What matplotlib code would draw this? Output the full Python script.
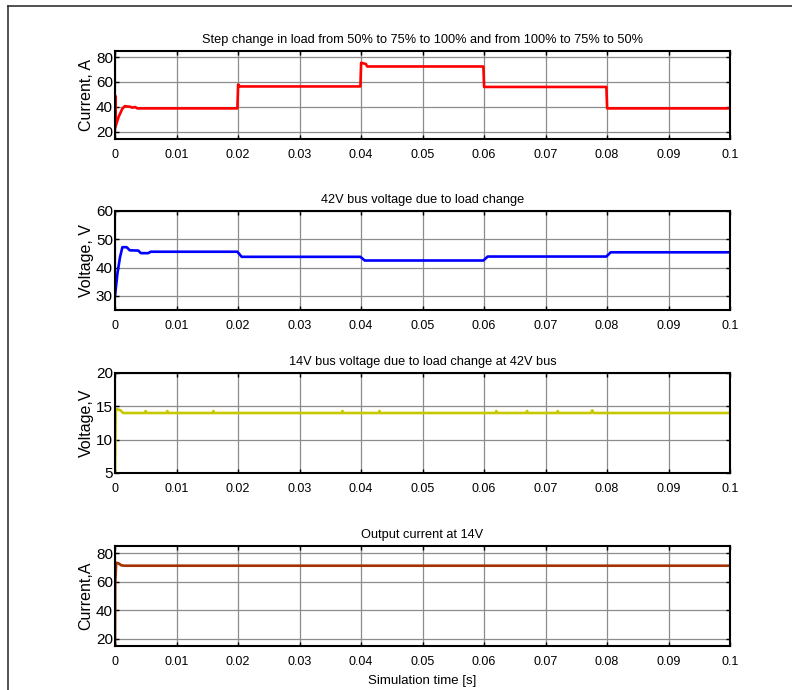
import matplotlib
matplotlib.use('Agg')
import matplotlib.pyplot as plt
from matplotlib.lines import Line2D

# panel 1 - load current
t1 = [0, 0.00003, 0.00008, 0.0006, 0.0012, 0.0016, 0.0025, 0.0028, 0.0033, 0.0036,
      0.0199, 0.02002, 0.0203, 0.0399, 0.04002, 0.0408, 0.041, 0.0599, 0.06002, 0.0799, 0.08002, 0.1]
i1 = [22, 49, 24, 32, 38.5, 40.5, 40, 39.3, 39.8, 38.7,
      38.7, 58, 56.4, 56.4, 75.5, 74.5, 72.5, 72.5, 56, 56, 38.7, 38.7]

# panel 2 - 42V bus voltage
t2 = [0, 0.0004, 0.0008, 0.0012, 0.0019, 0.0024, 0.0038, 0.0042, 0.0054, 0.0058,
      0.0199, 0.0206, 0.0399, 0.0406, 0.0599, 0.0606, 0.0799, 0.0806, 0.1]
v2 = [30, 38, 43.5, 47.2, 47.2, 46.1, 46.0, 45.1, 45.1, 45.6,
      45.6, 43.8, 43.8, 42.5, 42.5, 43.9, 43.9, 45.4, 45.4]

# panel 3 - 14V bus voltage
t3 = [0, 0.00012, 0.0003, 0.0009, 0.0013, 0.0049, 0.005, 0.0051, 0.0084, 0.0085, 0.0086,
      0.0159, 0.016, 0.0161, 0.0369, 0.037, 0.0371, 0.0429, 0.043, 0.0431, 0.0619, 0.062, 0.0621,
      0.0669, 0.067, 0.0671, 0.0719, 0.072, 0.0721, 0.0774, 0.0776, 0.0778, 0.1]
v3 = [5, 14.2, 14.6, 14.4, 14.0, 14.0, 14.3, 14.0, 14.0, 14.3, 14.0,
      14.0, 14.3, 14.0, 14.0, 14.3, 14.0, 14.0, 14.3, 14.0, 14.0, 14.3, 14.0,
      14.0, 14.3, 14.0, 14.0, 14.3, 14.0, 14.0, 14.4, 14.0, 14.0]

# panel 4 - output current at 14V
t4 = [0, 0.00004, 0.0002, 0.0006, 0.001, 0.0015, 0.1]
i4 = [15, 60, 73.3, 72.8, 71.5, 71.2, 71.2]

xticks = [0, 0.01, 0.02, 0.03, 0.04, 0.05, 0.06, 0.07, 0.08, 0.09, 0.1]
xticklabels = ['0', '0.01', '0.02', '0.03', '0.04', '0.05', '0.06', '0.07', '0.08', '0.09', '0.1']

panels = [
    (t1, i1, '#ff0000', 'Current, A', (14, 85), [20, 40, 60, 80],
     'Step change in load from 50% to 75% to 100% and from 100% to 75% to 50%'),
    (t2, v2, '#0000ff', 'Voltage, V', (25, 60), [30, 40, 50, 60],
     '42V bus voltage due to load change'),
    (t3, v3, '#c8c800', 'Voltage,V', (5, 20), [5, 10, 15, 20],
     '14V bus voltage due to load change at 42V bus'),
    (t4, i4, '#a33200', 'Current,A', (15, 85), [20, 40, 60, 80],
     'Output current at 14V'),
]

# axes boxes in pixels (top, bottom)
boxes = [(51, 139), (211, 310), (373, 473), (546, 646)]
W, H = 792, 690

font = 'Liberation Sans'
fig = plt.figure(figsize=(7.92, 6.9), dpi=100)

for (t, y, col, ylab, ylim, yt, title), (top, bot) in zip(panels, boxes):
    ax = fig.add_axes([115 / W, 1 - bot / H, 615 / W, (bot - top) / H])
    ax.plot(t, y, color=col, linewidth=1.9)
    ax.set_xlim(0, 0.1)
    ax.set_ylim(*ylim)
    ax.set_xticks(xticks)
    ax.set_xticklabels(xticklabels, family=font, fontsize=9)
    ax.set_yticks(yt)
    ax.set_yticklabels([str(v) for v in yt], family=font, fontsize=11)
    ax.tick_params(axis='x', direction='in', length=3, width=1, top=True, pad=7)
    ax.tick_params(axis='y', direction='in', length=3, width=1, right=True, pad=1.5)
    ax.grid(True, color='#8c8c8c', linewidth=0.9)
    ax.set_axisbelow(True)
    for s in ax.spines.values():
        s.set_linewidth(1.5)
    ax.set_title(title, family=font, fontsize=9.2, pad=6)
    ax.set_ylabel(ylab, family=font, fontsize=11.5, va='center')
    ax.yaxis.set_label_coords(-0.047, 0.5)

ax.set_xlabel('Simulation time [s]', family=font, fontsize=9.5, labelpad=5)

# outer frame (left and top edges)
fig.add_artist(Line2D([8 / W, 8 / W], [0, 1 - 6 / H], color='#333333', linewidth=1.2))
fig.add_artist(Line2D([8 / W, 1], [1 - 6 / H, 1 - 6 / H], color='#333333', linewidth=1.2))

fig.savefig('out.png', dpi=100, facecolor='white')
